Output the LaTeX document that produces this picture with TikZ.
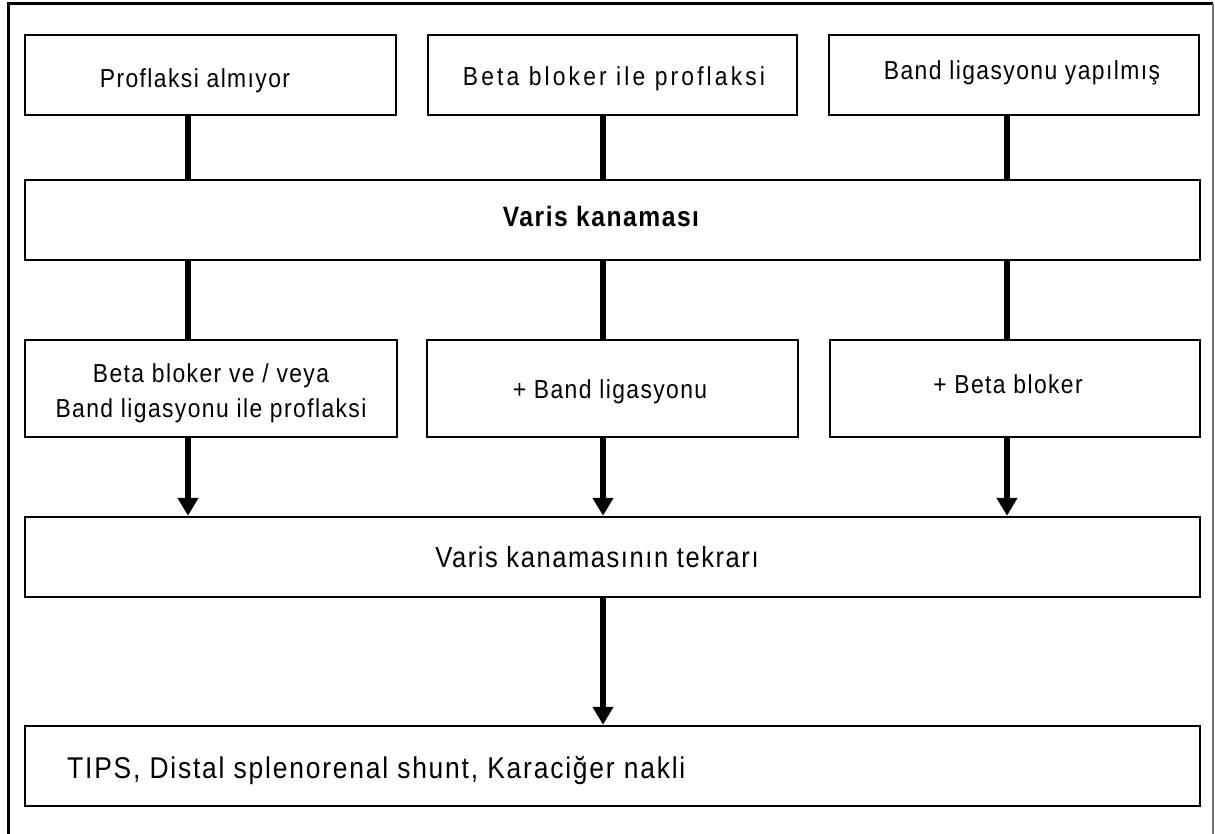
\documentclass[tikz,border=0pt]{standalone}
\usepackage{fontspec}
\setmainfont{Liberation Sans}[LetterSpace=5.4, FakeStretch=0.88]
\usetikzlibrary{arrows.meta}
\begin{document}
\begin{tikzpicture}[x=1pt,y=-1pt,
  box/.style={draw, line width=2.5pt, inner sep=0pt, minimum height=80pt},
  conn/.style={line width=6pt},
  arr/.style={line width=6pt, -{Triangle[width=20pt,length=18pt]}},
  txt/.style={inner sep=0pt, anchor=base, font=\fontsize{26}{35}\selectfont},
  bigtxt/.style={inner sep=0pt, anchor=base, font=\fontsize{29}{34}\selectfont}]
\useasboundingbox (0,0) rectangle (1215,834);
\fill[white] (0,0) rectangle (1215,834);
% outer frame
\draw[line width=3pt] (8,834) -- (8,4) -- (1213,4);
\draw[line width=1.5pt, black!55] (1213,4) -- (1213,834);
% column positions of connectors
\coordinate (x1) at (188,0);
\coordinate (x2) at (603,0);
\coordinate (x3) at (1007,0);
% boxes
\node[box, minimum width=371pt] (b1) at (210.5,75) {};
\node[box, minimum width=369pt] (b2) at (612.5,75) {};
\node[box, minimum width=370pt] (b3) at (1014,75) {};
\node[box, minimum width=1175pt] (vk) at (612.5,220) {};
\node[box, minimum width=372pt, minimum height=97pt] (c1) at (211,388.5) {};
\node[box, minimum width=371pt, minimum height=97pt] (c2) at (612.5,388.5) {};
\node[box, minimum width=370pt, minimum height=97pt] (c3) at (1015,388.5) {};
\node[box, minimum width=1175pt] (tk) at (612.5,557) {};
\node[box, minimum width=1175pt] (tips) at (612.5,766) {};
% texts
\node[txt] (t1) at (195,88) {Proflaksi almıyor};
\node[txt, font=\fontsize{26}{35}\selectfont\addfontfeature{LetterSpace=12}] (t2) at (614,86) {Beta bloker ile proflaksi};
\node[txt] (t3) at (1022,80) {Band ligasyonu yapılmış};
\node[inner sep=0pt, anchor=base, font=\fontsize{28}{30}\selectfont\bfseries] (t4) at (601,227) {Varis kanaması};
\node[txt] (t5a) at (211,382) {Beta bloker ve / veya};
\node[txt] (t5b) at (211,417) {Band ligasyonu ile proflaksi};
\node[txt] (t6) at (610,398) {+ Band ligasyonu};
\node[txt] (t7) at (1008,393) {+ Beta bloker};
\node[bigtxt] (t8) at (597,567) {Varis kanamasının tekrarı};
\node[bigtxt, font=\fontsize{30}{34}\selectfont\addfontfeature{LetterSpace=6}, anchor=base west] (t9) at (67,778) {TIPS, Distal splenorenal shunt, Karaciğer nakli};
% connectors
\draw[conn] (b1.south -| x1) -- (vk.north -| x1);
\draw[conn] (b2.south -| x2) -- (vk.north -| x2);
\draw[conn] (b3.south -| x3) -- (vk.north -| x3);
\draw[conn] (vk.south -| x1) -- (c1.north -| x1);
\draw[conn] (vk.south -| x2) -- (c2.north -| x2);
\draw[conn] (vk.south -| x3) -- (c3.north -| x3);
\draw[arr] (c1.south -| x1) -- (tk.north -| x1);
\draw[arr] (c2.south -| x2) -- (tk.north -| x2);
\draw[arr] (c3.south -| x3) -- (tk.north -| x3);
\draw[arr] (tk.south -| x2) -- (tips.north -| x2);
\end{tikzpicture}
\end{document}
